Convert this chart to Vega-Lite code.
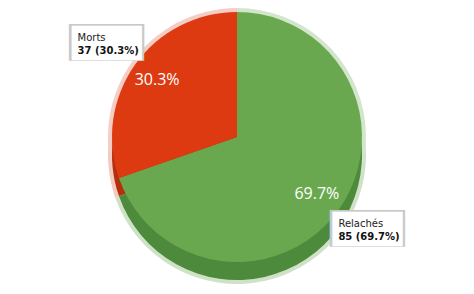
{
  "$schema": "https://vega.github.io/schema/vega-lite/v6.json",
  "width": 472,
  "height": 292,
  "padding": 1,
  "autosize": "none",
  "background": "#ffffff",
  "config": {"view": {"stroke": "#dddddd"}},
  "data": {"values": [
    {"status": "Relachés", "value": 85, "pct": "69.7%", "detail": "85 (69.7%)"},
    {"status": "Morts", "value": 37, "pct": "30.3%", "detail": "37 (30.3%)"}
  ]},
  "encoding": {
    "theta": {"field": "value", "type": "quantitative", "stack": true},
    "order": {"field": "value", "sort": "descending"}
  },
  "layer": [
    {"mark": {"type": "arc", "yOffset": 8},
     "encoding": {"radius": {"value": 129},
       "color": {"field": "status", "legend": null, "scale": {"domain": ["Relachés", "Morts"], "range": ["#cfe2c8", "#f3c9c0"]}}}},
    {"mark": {"type": "arc", "yOffset": -10},
     "encoding": {"radius": {"value": 129},
       "color": {"field": "status", "legend": null, "scale": {"domain": ["Relachés", "Morts"], "range": ["#d3e5cc", "#f5cdc4"]}}}},
    {"mark": {"type": "arc", "yOffset": 8},
     "encoding": {"radius": {"value": 125},
       "color": {"field": "status", "legend": null, "scale": {"domain": ["Relachés", "Morts"], "range": ["#4e8a3b", "#b52f0e"]}}}},
    {"mark": {"type": "arc", "yOffset": -10},
     "encoding": {"radius": {"value": 125},
       "color": {"field": "status", "legend": null, "scale": {"domain": ["Relachés", "Morts"], "range": ["#6aa84f", "#dd3a12"]}}}},
    {"mark": {"type": "text", "yOffset": -10, "fill": "#ffffff", "font": "Open Sans", "fontSize": 16, "align": "center", "baseline": "middle"},
     "encoding": {"radius": {"value": 98}, "text": {"field": "pct"}}},
    {"mark": {"type": "text", "yOffset": -10, "fill": "#c8c8c8", "font": "DejaVu Sans Mono", "fontSize": 31, "align": "center", "baseline": "middle"},
     "encoding": {"radius": {"value": 160}, "text": {"value": "████"}}},
    {"mark": {"type": "text", "yOffset": -10, "fill": "#ffffff", "font": "DejaVu Sans Mono", "fontSize": 29, "align": "center", "baseline": "middle"},
     "encoding": {"radius": {"value": 160}, "text": {"value": "████"}}},
    {"mark": {"type": "text", "yOffset": -10, "dx": -29, "dy": -6, "fill": "#222222", "font": "DejaVu Sans", "fontSize": 10, "align": "left", "baseline": "middle"},
     "encoding": {"radius": {"value": 160}, "text": {"field": "status"}}},
    {"mark": {"type": "text", "yOffset": -10, "dx": -29, "dy": 7, "fill": "#111111", "font": "DejaVu Sans", "fontSize": 10, "fontWeight": "bold", "align": "left", "baseline": "middle"},
     "encoding": {"radius": {"value": 160}, "text": {"field": "detail"}}}
  ],
  "resolve": {"scale": {"color": "independent"}}
}
